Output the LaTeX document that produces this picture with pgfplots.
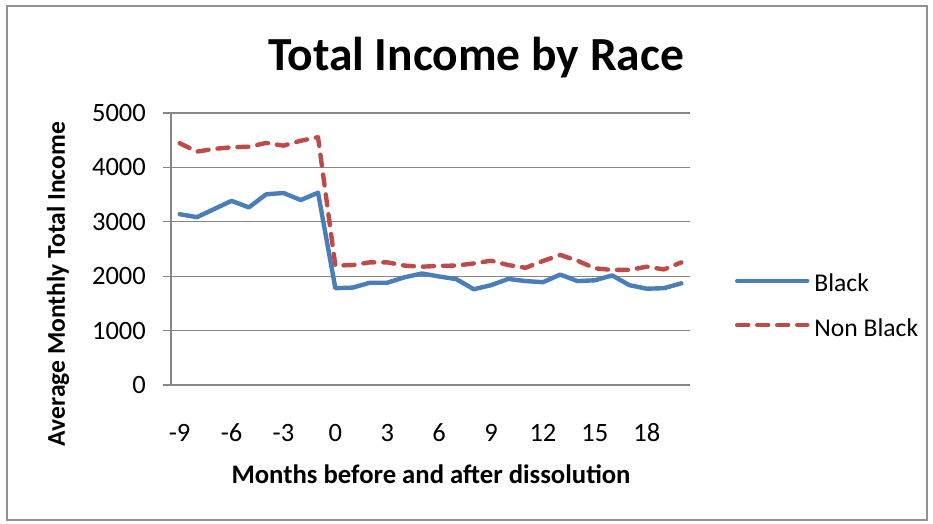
\documentclass[border=0pt]{standalone}
\usepackage{pgfplots}
\pgfplotsset{compat=1.18}
\usepackage{fontspec}
\setmainfont{Carlito}
\definecolor{exblue}{HTML}{4A7EBB}
\definecolor{exred}{HTML}{BE4B48}
\definecolor{gridc}{HTML}{868686}
\pgfplotstableread{
m v
-9 3140
-8 3085
-7 3235
-6 3385
-5 3265
-4 3505
-3 3530
-2 3400
-1 3535
0 1780
1 1790
2 1880
3 1880
4 1980
5 2050
6 1995
7 1945
8 1760
9 1835
10 1950
11 1910
12 1890
13 2030
14 1910
15 1925
16 2015
17 1835
18 1770
19 1780
20 1870
}\black
\pgfplotstableread{
m v
-9 4445
-8 4290
-7 4340
-6 4370
-5 4380
-4 4450
-3 4400
-2 4490
-1 4555
0 2195
1 2205
2 2255
3 2255
4 2195
5 2175
6 2190
7 2195
8 2235
9 2285
10 2205
11 2155
12 2280
13 2390
14 2285
15 2145
16 2115
17 2115
18 2175
19 2125
20 2255
}\nonblack
\begin{document}
\begin{tikzpicture}[x=1pt,y=1pt]
\useasboundingbox (0,0) rectangle (933,523);
\draw[gridc!90, line width=1.5pt] (7,3) rectangle (927,517);
\begin{axis}[
  at={(171pt,138pt)}, anchor=south west,
  scale only axis, width=519pt, height=272pt,
  xmin=-9.5, xmax=20.5, ymin=0, ymax=5000,
  xtick={-9,-6,...,18}, ytick={0,1000,...,5000},
  axis lines*=left,
  axis line style={gridc, line width=1.2pt},
  ymajorgrids, grid style={gridc, line width=1.2pt},
  tick align=outside, major tick length=8pt,
  ytick style={gridc, line width=1.2pt},
  xtick style={draw=none},
  /pgf/number format/assume math mode=true,
  /pgf/number format/1000 sep={},
  ticklabel style={font=\fontsize{26.5}{32}\selectfont},
  yticklabel style={inner sep=0pt, xshift=-17pt, anchor=east},
  xticklabel style={inner sep=0pt, anchor=base, yshift=-48pt},
  every axis x label/.style={at={(axis description cs:0.501,0)}, anchor=base, yshift=-98pt, font=\bfseries\fontsize{26.7}{32}\selectfont},
  every axis y label/.style={at={(axis description cs:-0.2177,0.371)}, rotate=90, anchor=center, font=\bfseries\fontsize{25.6}{32}\selectfont},
  every axis title/.style={at={(axis description cs:0.5877,1)}, anchor=base, yshift=43pt, font=\bfseries\fontsize{47.5}{56}\selectfont},
  title={Total Income by Race},
  xlabel={Months before and after dissolution},
  ylabel={Average Monthly Total Income},
  legend style={at={(axis description cs:1.0867,0.2905)}, anchor=west, draw=none, fill=none, inner sep=0pt, outer sep=0pt, font=\fontsize{25.6}{32}\selectfont, row sep=25pt, nodes={inner sep=0pt}},
  legend image code/.code={\draw[#1] (0pt,0.3em) -- (70pt,0.3em);},
  legend cell align=left,
  /tikz/every odd column/.append style={column sep=5pt},
]
\addplot[exblue, line width=4.4pt, line join=round, line cap=round] table[x=m,y=v] {\black};
\addlegendentry{Black}
\addplot[exred, line width=4.4pt, line join=round, line cap=round, dash pattern=on 11pt off 9pt] table[x=m,y=v] {\nonblack};
\addlegendentry{Non Black}
\end{axis}
\end{tikzpicture}
\end{document}
